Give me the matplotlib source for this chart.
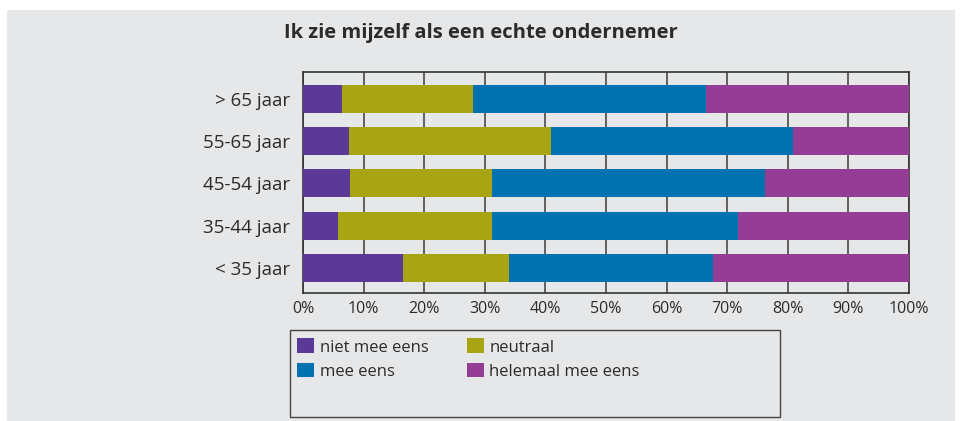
import matplotlib
matplotlib.use("Agg")
import matplotlib.pyplot as plt
from matplotlib.patches import Rectangle, Patch
import numpy as np

categories = ["< 35 jaar", "35-44 jaar", "45-54 jaar", "55-65 jaar", "> 65 jaar"]
series_names = ["niet mee eens", "neutraal", "mee eens", "helemaal mee eens"]
niet_mee_eens = [16.5, 5.8, 7.8, 7.6, 6.4]
neutraal = [17.5, 25.4, 23.4, 33.4, 21.7]
mee_eens = [33.6, 40.6, 45.0, 39.8, 38.4]
helemaal_mee_eens = [32.4, 28.2, 23.8, 19.2, 33.5]
xticklabels = ["0%", "10%", "20%", "30%", "40%", "50%", "60%", "70%", "80%", "90%", "100%"]

colors = ["#5b3996", "#a8a413", "#0072b0", "#953c94"]
bg = "#e6e7e9"
txt = "#2b2b2b"

plt.rcParams['font.family'] = ['Open Sans', 'DejaVu Sans']

fig = plt.figure(figsize=(9.62, 4.21), dpi=100)
fig.patch.set_facecolor("white")
W, H = 962, 421
fig.patches.append(Rectangle((7 / W, 0), (955 - 7) / W, (421 - 10) / H,
                             transform=fig.transFigure, facecolor=bg, edgecolor="none", zorder=-10))

ax = fig.add_axes([303 / W, 1 - 293 / H, (909 - 303) / W, (293 - 72) / H])
ax.set_facecolor(bg)

y = np.arange(len(categories))
data = [niet_mee_eens, neutraal, mee_eens, helemaal_mee_eens]
left = np.zeros(len(categories))
for vals, c, name in zip(data, colors, series_names):
    ax.barh(y, vals, left=left, height=0.66, color=c, label=name, zorder=3)
    left += np.array(vals)

ax.set_xlim(0, 100)
ax.set_ylim(-0.59, 4.63)
ax.set_xticks(np.arange(0, 101, 10))
ax.set_xticklabels(xticklabels, fontsize=11.5, color=txt)
ax.set_yticks(y)
ax.set_yticklabels(categories, fontsize=13.5, color=txt)
ax.tick_params(axis="x", length=0, pad=6)
ax.tick_params(axis="y", length=0, pad=9)
ax.grid(axis="x", color="#555555", linewidth=1.3, zorder=1)
for s in ax.spines.values():
    s.set_color("#333333")
    s.set_linewidth(1.2)

fig.text(0.5, 1 - 33 / H, "Ik zie mijzelf als een echte ondernemer", ha="center", va="center",
         fontsize=14.5, fontweight="bold", color=txt)

# legend box
fig.patches.append(Rectangle((290 / W, 1 - 417 / H), (780 - 290) / W, (417 - 330) / H,
                             transform=fig.transFigure, facecolor="none", edgecolor="#444444",
                             linewidth=1.0, zorder=5))
handles = [Patch(facecolor=colors[0]), Patch(facecolor=colors[2]),
           Patch(facecolor=colors[1]), Patch(facecolor=colors[3])]
labels = [series_names[0], series_names[2], series_names[1], series_names[3]]
fig.legend(handles, labels, ncol=2, loc="upper left", bbox_to_anchor=(294 / W, 1 - 335 / H),
           frameon=False, fontsize=12, handlelength=1.0, handleheight=1.0, handletextpad=0.35,
           columnspacing=2.3, labelspacing=0.42, borderaxespad=0, borderpad=0.2,
           labelcolor=txt)

fig.savefig("out.png", dpi=100, facecolor=fig.get_facecolor())
